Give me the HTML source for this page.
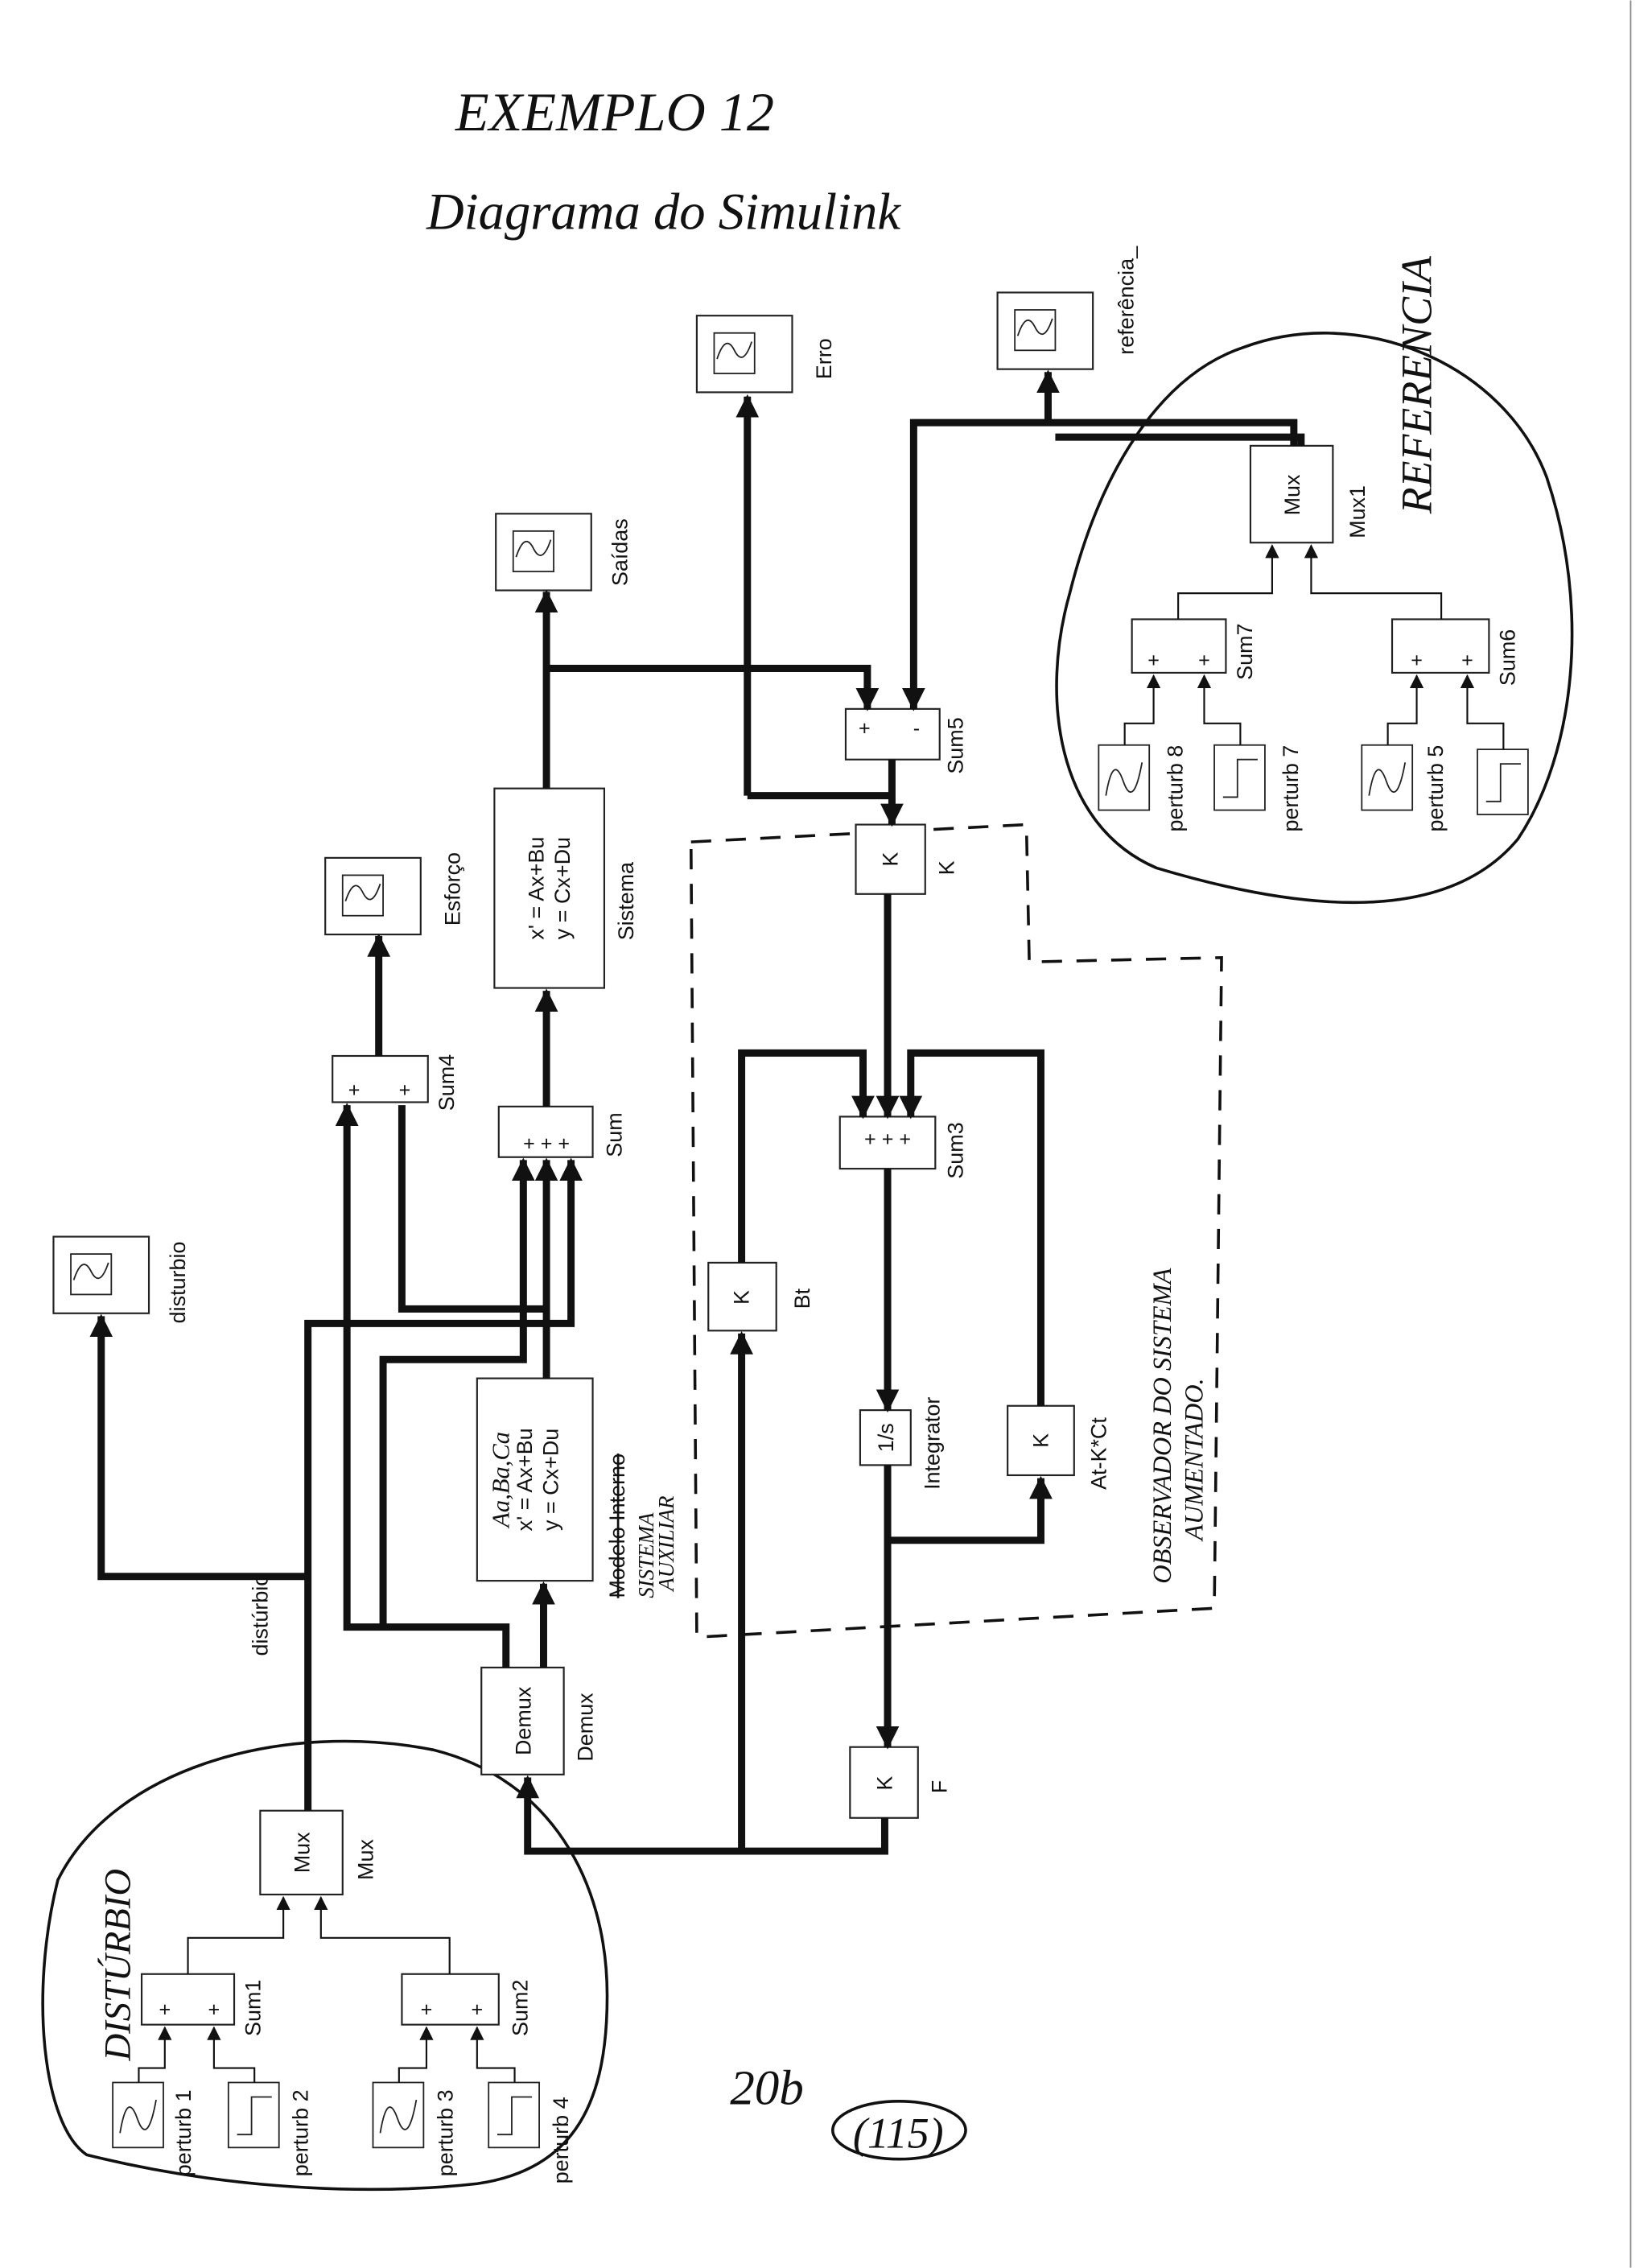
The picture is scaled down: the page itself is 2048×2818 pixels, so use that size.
<!DOCTYPE html>
<html><head><meta charset="utf-8"><style>html,body{margin:0;padding:0;background:#fff}svg{display:block}</style></head>
<body>
<svg width="2048" height="2818" viewBox="0 0 1140 1568" xmlns="http://www.w3.org/2000/svg" font-family="Liberation Sans, sans-serif">
<defs>
<marker id="a" viewBox="0 0 10 10" refX="9" refY="5" markerWidth="3.2" markerHeight="3.2" orient="auto"><path d="M0,0L10,5L0,10z" fill="#111"/></marker>
<marker id="b" viewBox="0 0 10 10" refX="9" refY="5" markerWidth="8" markerHeight="8" orient="auto"><path d="M0,0L10,5L0,10z" fill="#111"/></marker>
<g id="scope"><rect x="0" y="0" width="66" height="53" fill="#fff" stroke="#222" stroke-width="1.2"/><rect x="12" y="12" width="28" height="28" fill="#fff" stroke="#222"/><path d="M14,30 Q20,12 26,24 T38,18" fill="none" stroke="#222"/></g>
<g id="sscope"><rect x="0" y="0" width="35" height="45" fill="#fff" stroke="#222"/><path d="M5,35 Q10,5 17,25 T30,12" fill="none" stroke="#222"/></g>
<g id="step"><rect x="0" y="0" width="35" height="45" fill="#fff" stroke="#222"/><path d="M6,36 H16 V10 H30" fill="none" stroke="#222"/></g>
</defs>
<rect width="1140" height="1568" fill="#fff"/>
<g font-family="Liberation Serif, serif" font-style="italic" fill="#111">
<text x="315" y="90" font-size="38">EXEMPLO 12</text>
<text x="295" y="158" font-size="36">Diagrama do Simulink</text>
</g>
<!-- observer dashed -->
<path d="M478,582 L710,570 L712,665 L845,662 L840,1112 L482,1132 Z" fill="none" stroke="#111" stroke-width="2" stroke-dasharray="14,10"/>
<!-- blobs -->
<path d="M860,240 C940,210 1040,250 1070,330 C1100,420 1090,520 1050,580 C1000,640 900,630 800,600 C730,570 720,480 740,410 C760,330 800,260 860,240 Z" fill="none" stroke="#111" stroke-width="2"/>
<path d="M40,1300 C80,1220 200,1190 300,1210 C380,1230 420,1300 420,1380 C420,1450 400,1500 330,1510 C240,1520 140,1510 60,1490 C30,1470 20,1380 40,1300 Z" fill="none" stroke="#111" stroke-width="2"/>
<!-- scopes -->
<use href="#scope" x="482" y="218"/><use href="#scope" x="690" y="202"/><use href="#scope" x="343" y="355"/><use href="#scope" x="225" y="593"/><use href="#scope" x="37" y="855"/>
<use href="#sscope" x="760" y="515"/><use href="#step" x="840" y="515"/><use href="#sscope" x="942" y="515"/><use href="#step" x="1022" y="518"/>
<use href="#sscope" x="78" y="1440"/><use href="#step" x="158" y="1440"/><use href="#sscope" x="258" y="1440"/><use href="#step" x="338" y="1440"/>
<!-- blocks -->
<g fill="#fff" stroke="#222" stroke-width="1.2">
<rect x="865" y="308" width="57" height="67"/><rect x="783" y="428" width="65" height="37"/><rect x="963" y="428" width="67" height="37"/>
<rect x="585" y="490" width="65" height="35"/><rect x="592" y="570" width="48" height="48"/><rect x="342" y="545" width="76" height="138"/>
<rect x="230" y="730" width="66" height="32"/><rect x="345" y="765" width="65" height="35"/><rect x="581" y="772" width="66" height="36"/>
<rect x="490" y="873" width="47" height="47"/><rect x="595" y="975" width="35" height="38"/><rect x="697" y="972" width="46" height="48"/>
<rect x="330" y="953" width="80" height="140"/><rect x="333" y="1153" width="57" height="74"/><rect x="588" y="1208" width="47" height="49"/>
<rect x="180" y="1252" width="57" height="58"/><rect x="98" y="1365" width="64" height="35"/><rect x="278" y="1365" width="67" height="35"/>
</g>
<!-- block texts (rotated) -->
<g font-size="15" fill="#111" text-anchor="middle">
<text transform="translate(899,342) rotate(-90)">Mux</text>
<text transform="translate(367,1190) rotate(-90)">Demux</text>
<text transform="translate(214,1281) rotate(-90)">Mux</text>
<text transform="translate(621,594) rotate(-90)">K</text>
<text transform="translate(518,897) rotate(-90)">K</text>
<text transform="translate(725,996) rotate(-90)">K</text>
<text transform="translate(617,1233) rotate(-90)">K</text>
<text transform="translate(618,994) rotate(-90)">1/s</text>
<text transform="translate(376,614) rotate(-90)">x' = Ax+Bu</text>
<text transform="translate(394,614) rotate(-90)">y = Cx+Du</text>
<text transform="translate(368,1023) rotate(-90)">x' = Ax+Bu</text>
<text transform="translate(386,1023) rotate(-90)">y = Cx+Du</text>
<text transform="translate(352,1023) rotate(-90)" font-family="Liberation Serif,serif" font-style="italic" font-size="17">Aa,Ba,Ca</text>
</g>
<g font-size="14" fill="#111" text-anchor="middle">
<text x="598" y="508">+</text><text x="634" y="508">-</text>
<text x="798" y="461">+</text><text x="833" y="461">+</text><text x="980" y="461">+</text><text x="1015" y="461">+</text>
<text x="245" y="758">+</text><text x="280" y="758">+</text>
<text x="378" y="795">+ + +</text><text x="614" y="792">+ + +</text>
<text x="114" y="1394">+</text><text x="148" y="1394">+</text><text x="295" y="1394">+</text><text x="330" y="1394">+</text>
</g>
<!-- labels -->
<g font-size="15" fill="#111">
<text transform="translate(575,262) rotate(-90)">Erro</text>
<text transform="translate(784,245) rotate(-90)">referência_</text>
<text transform="translate(434,405) rotate(-90)">Saídas</text>
<text transform="translate(318,640) rotate(-90)">Esforço</text>
<text transform="translate(128,915) rotate(-90)">disturbio</text>
<text transform="translate(944,372) rotate(-90)">Mux1</text>
<text transform="translate(866,470) rotate(-90)">Sum7</text>
<text transform="translate(1048,474) rotate(-90)">Sum6</text>
<text transform="translate(818,575) rotate(-90)">perturb 8</text>
<text transform="translate(898,575) rotate(-90)">perturb 7</text>
<text transform="translate(998,575) rotate(-90)">perturb 5</text>
<text transform="translate(666,535) rotate(-90)">Sum5</text>
<text transform="translate(660,605) rotate(-90)">K</text>
<text transform="translate(438,650) rotate(-90)">Sistema</text>
<text transform="translate(314,768) rotate(-90)">Sum4</text>
<text transform="translate(430,800) rotate(-90)">Sum</text>
<text transform="translate(666,815) rotate(-90)">Sum3</text>
<text transform="translate(560,905) rotate(-90)">Bt</text>
<text transform="translate(650,1030) rotate(-90)">Integrator</text>
<text transform="translate(765,1030) rotate(-90)">At-K*Ct</text>
<text transform="translate(432,1105) rotate(-90)" text-decoration="line-through">Modelo Interno</text>
<text transform="translate(410,1218) rotate(-90)">Demux</text>
<text transform="translate(655,1240) rotate(-90)">F</text>
<text transform="translate(258,1300) rotate(-90)">Mux</text>
<text transform="translate(185,1145) rotate(-90)">distúrbio</text>
<text transform="translate(180,1408) rotate(-90)">Sum1</text>
<text transform="translate(365,1408) rotate(-90)">Sum2</text>
<text transform="translate(132,1505) rotate(-90)">perturb 1</text>
<text transform="translate(213,1505) rotate(-90)">perturb 2</text>
<text transform="translate(313,1505) rotate(-90)">perturb 3</text>
<text transform="translate(393,1510) rotate(-90)">perturb 4</text>
</g>
<!-- handwriting -->
<g font-family="Liberation Serif,serif" font-style="italic" fill="#111">
<text transform="translate(990,355) rotate(-90)" font-size="30">REFERENCIA</text>
<text transform="translate(810,1095) rotate(-90)" font-size="18">OBSERVADOR DO SISTEMA</text>
<text transform="translate(832,1065) rotate(-90)" font-size="18">AUMENTADO.</text>
<text transform="translate(452,1105) rotate(-90)" font-size="15">SISTEMA</text>
<text transform="translate(466,1100) rotate(-90)" font-size="15">AUXILIAR</text>
<text transform="translate(90,1425) rotate(-90)" font-size="26">DISTÚRBIO</text>
<text x="505" y="1455" font-size="34">20b</text>
<text x="590" y="1485" font-size="30">(115)</text>
<ellipse cx="622" cy="1473" rx="46" ry="20" fill="none" stroke="#111" stroke-width="2"/>
</g>
<!-- thick connectors -->
<g fill="none" stroke="#111" stroke-width="5" stroke-linejoin="miter">
<path d="M617,525 V570" marker-end="url(#a)"/>
<path d="M517,550 H617"/><path d="M517,550 V274" marker-end="url(#a)"/>
<path d="M895,308 V292 H632 V490" marker-end="url(#a)"/>
<path d="M725,292 V257" marker-end="url(#a)"/>
<path d="M900,308 V302 H730"/>
<path d="M378,545 V409" marker-end="url(#a)"/>
<path d="M378,462 H600 V490" marker-end="url(#a)"/>
<path d="M378,765 V685" marker-end="url(#a)"/>
<path d="M262,730 V647" marker-end="url(#a)"/>
<path d="M614,618 V772" marker-end="url(#a)"/>
<path d="M513,873 V728 H597 V772" marker-end="url(#a)"/>
<path d="M720,972 V728 H630 V772" marker-end="url(#a)"/>
<path d="M614,808 V975" marker-end="url(#a)"/>
<path d="M614,1013 V1208" marker-end="url(#a)"/>
<path d="M614,1065 H720 V1022" marker-end="url(#a)"/>
<path d="M612,1257 V1280 H365 V1229" marker-end="url(#a)"/>
<path d="M513,1280 V922" marker-end="url(#a)"/>
<path d="M376,1153 V1095" marker-end="url(#a)"/>
<path d="M378,953 V802" marker-end="url(#a)"/>
<path d="M350,1153 V1125 H240 V764" marker-end="url(#a)"/>
<path d="M265,1125 V940 H362 V802" marker-end="url(#a)"/>
<path d="M213,1252 V915 H395 V802" marker-end="url(#a)"/>
<path d="M213,1090 H70 V910" marker-end="url(#a)"/>
<path d="M278,764 V905 H380"/>
</g>
<!-- thin connectors -->
<g fill="none" stroke="#111" stroke-width="1.2">
<path d="M815,428 V410 H880 V377" marker-end="url(#b)"/>
<path d="M997,428 V410 H907 V377" marker-end="url(#b)"/>
<path d="M778,515 V500 H798 V467" marker-end="url(#b)"/>
<path d="M858,515 V500 H833 V467" marker-end="url(#b)"/>
<path d="M960,515 V500 H980 V467" marker-end="url(#b)"/>
<path d="M1040,518 V500 H1015 V467" marker-end="url(#b)"/>
<path d="M130,1365 V1340 H196 V1312" marker-end="url(#b)"/>
<path d="M311,1365 V1340 H222 V1312" marker-end="url(#b)"/>
<path d="M96,1440 V1430 H114 V1402" marker-end="url(#b)"/>
<path d="M176,1440 V1430 H148 V1402" marker-end="url(#b)"/>
<path d="M276,1440 V1430 H295 V1402" marker-end="url(#b)"/>
<path d="M356,1440 V1430 H330 V1402" marker-end="url(#b)"/>
</g>
<path d="M1128,0 V1568" stroke="#888" stroke-width="1"/>
</svg>
</body></html>
